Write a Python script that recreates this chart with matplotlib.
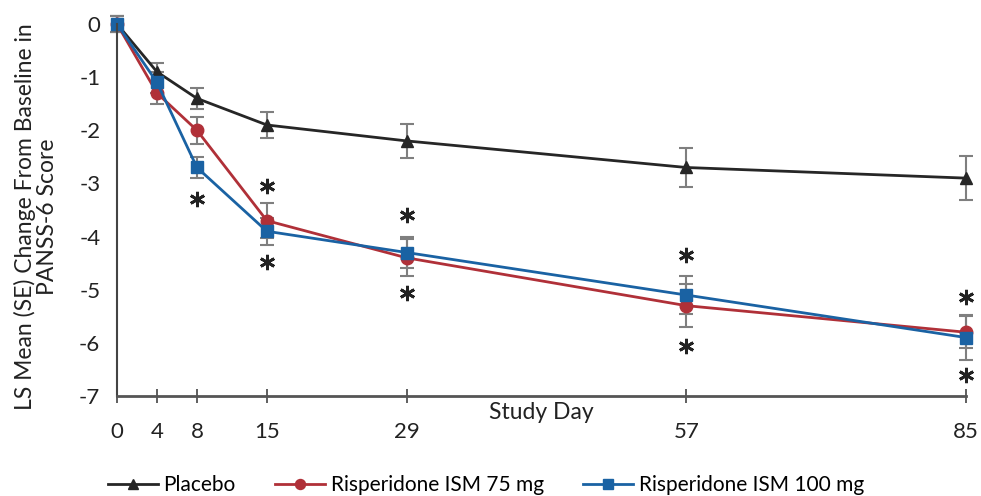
import numpy as np
import matplotlib.pyplot as plt

plt.rcParams['font.family'] = ['Lato', 'DejaVu Sans']
plt.rcParams['axes.unicode_minus'] = False

## data
days = [0, 4, 8, 15, 29, 57, 85]
placebo = [0, -0.9, -1.4, -1.9, -2.2, -2.7, -2.9]
placebo_se = [0.15, 0.17, 0.2, 0.25, 0.32, 0.37, 0.42]
ism75 = [0, -1.3, -2.0, -3.7, -4.4, -5.3, -5.8]
ism75_se = [0.15, 0.2, 0.25, 0.33, 0.35, 0.4, 0.3]
ism100 = [0, -1.1, -2.7, -3.9, -4.3, -5.1, -5.9]
ism100_se = [0.15, 0.2, 0.2, 0.25, 0.3, 0.35, 0.42]

# significance asterisks (day, y)
star_days = [8, 15, 15, 29, 29, 57, 57, 85, 85]
star_y = [-3.3, -3.05, -4.48, -3.6, -5.07, -4.35, -6.05, -5.14, -6.61]

fig = plt.figure(figsize=(9.81, 4.96), dpi=100)
ax = fig.add_axes([0.1193, 0.2016, 0.8654, 0.7500])

err_kw = dict(ecolor='#7f7f7f', elinewidth=1.5, capsize=5, capthick=1.5)
series = [
    (placebo, placebo_se, '#262626', '^', 'Placebo'),
    (ism75, ism75_se, '#b03038', 'o', 'Risperidone ISM 75 mg'),
    (ism100, ism100_se, '#1a62a3', 's', 'Risperidone ISM 100 mg'),
]
for vals, se, col, mk, lab in series:
    eb = ax.errorbar(days, vals, yerr=se, color=col, marker=mk, markersize=9,
                     linewidth=2, label=lab, clip_on=False, **err_kw)
    for c in list(eb[1]) + list(eb[2]):
        c.set_clip_on(False)

## asterisks drawn as six-spoke markers
ax.plot(star_days, star_y, linestyle='none', marker=(6, 2, 0), markersize=11,
        markeredgewidth=2, color='#222222', clip_on=False)

ax.set_xlim(0, 85)
ax.set_ylim(-7, 0)
ax.set_xticks(days)
ax.set_xticklabels([])
ax.set_yticks(range(0, -8, -1))
ax.tick_params(axis='y', length=0, labelsize=16, pad=12, colors='#222222')
ax.tick_params(axis='x', direction='inout', length=10, width=1.2, colors='#444444')
for sp in ['top', 'right']:
    ax.spines[sp].set_visible(False)
ax.spines['left'].set_color('#444444')
ax.spines['bottom'].set_color('#555555')
ax.spines['left'].set_linewidth(1.5)
ax.spines['bottom'].set_linewidth(2)

# x tick labels sit below the axis title, as in the reference
for d in days:
    ax.annotate(str(d), xy=(d, 0), xycoords=('data', 'axes fraction'),
                xytext=(0, -26), textcoords='offset points', ha='center',
                va='center', fontsize=16, color='#222222')
ax.annotate('Study Day', xy=(0.5, 0), xycoords='axes fraction',
            xytext=(0, -12), textcoords='offset points', ha='center',
            va='center', fontsize=16.5, color='#222222')

fig.text(0.037, 0.5625, 'LS Mean (SE) Change From Baseline in\nPANSS-6 Score',
         rotation=90, ha='center', va='center', fontsize=16.5, color='#222222',
         linespacing=1.05)

handles, labels = ax.get_legend_handles_labels()
handles = [h[0] for h in handles]
fig.legend(handles, labels, loc='center', bbox_to_anchor=(0.4955, 0.022),
           ncol=3, frameon=False, fontsize=15, handlelength=2.4,
           columnspacing=1.9, handletextpad=0.25, markerscale=0.8)

fig.savefig('out.png', dpi=100)
